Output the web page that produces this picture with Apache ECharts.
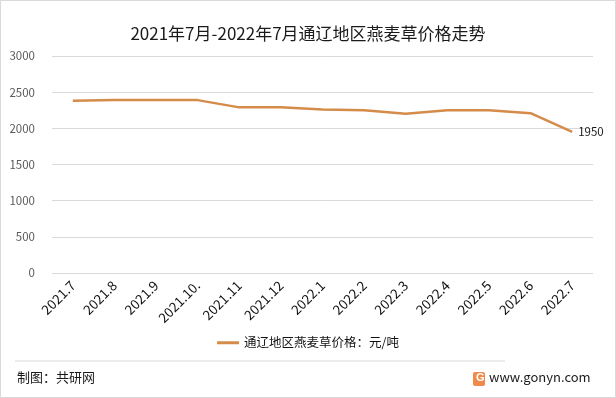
<!DOCTYPE html>
<html><head><meta charset="utf-8">
<script src="https://cdn.jsdelivr.net/npm/echarts@6/dist/echarts.min.js"></script>
<style>html,body{margin:0;padding:0;background:#fff}#c{width:616px;height:398px}</style>
</head><body><div id="c"></div>
<script>
const categories = ['2021.7','2021.8','2021.9','2021.10.','2021.11','2021.12','2022.1','2022.2','2022.3','2022.4','2022.5','2022.6','2022.7'];
const prices = [2380,2390,2390,2390,2290,2290,2260,2250,2200,2250,2250,2210,1950];
const yTicks = {min:0,max:3000,interval:500};
const seriesName = '通辽地区燕麦草价格：元/吨';
const font = '"Microsoft YaHei","Noto Sans CJK SC",sans-serif';
const chart = echarts.init(document.getElementById('c'));
chart.setOption({
  animation:false,
  backgroundColor:'#fff',
  title:{text:'2021年7月-2022年7月通辽地区燕麦草价格走势',left:'center',top:20,
    textStyle:{fontFamily:font,fontSize:17,fontWeight:'normal',color:'#1a1a1a'}},
  grid:{left:52,right:23,top:56,bottom:125},
  xAxis:{type:'category',data:categories,boundaryGap:true,
    axisLine:{show:false},axisTick:{show:false},
    axisLabel:{rotate:45,interval:0,fontFamily:font,fontSize:13.5,color:'#111',margin:10}},
  yAxis:{type:'value',min:yTicks.min,max:yTicks.max,interval:yTicks.interval,
    axisLine:{show:false},axisTick:{show:false},
    axisLabel:{fontFamily:font,fontSize:11.5,color:'#595959',margin:17,formatter:v=>String(v)},
    splitLine:{lineStyle:{color:'#d9d9d9'}}},
  legend:{bottom:44,left:'center',itemWidth:22,itemHeight:3,icon:'rect',
    textStyle:{fontFamily:font,fontSize:12.5,color:'#111'},data:[seriesName]},
  series:[{name:seriesName,type:'line',data:prices,symbol:'circle',symbolSize:0,showSymbol:true,
    lineStyle:{color:'#D58B4A',width:2.5},itemStyle:{color:'#D58B4A'},
    label:{show:true,position:'right',distance:6,fontFamily:font,fontSize:11.5,color:'#1a1a1a',
      formatter:p=>p.dataIndex===prices.length-1?String(p.value):''}}],
  graphic:[
    {type:'rect',shape:{x:0.5,y:0.5,width:615,height:397},style:{fill:'none',stroke:'#d9d9d9',lineWidth:1}},
    {type:'line',shape:{x1:15,y1:361,x2:505,y2:361},style:{stroke:'#d9d9d9',lineWidth:1}},
    {type:'text',left:17,top:371,style:{text:'制图：共研网',font:'13px '+font,fill:'#1a1a1a'}},
    {type:'rect',shape:{x:473,y:372,width:12,height:14,r:2},style:{fill:'#F08A4B'}},
    {type:'text',left:476,top:372,style:{text:'G',font:'bold 11px sans-serif',fill:'#fff'}},
    {type:'text',left:489,top:371,style:{text:'www.gonyn.com',font:'13px '+font,fill:'#1a1a1a'}}
  ]
});
</script></body></html>
